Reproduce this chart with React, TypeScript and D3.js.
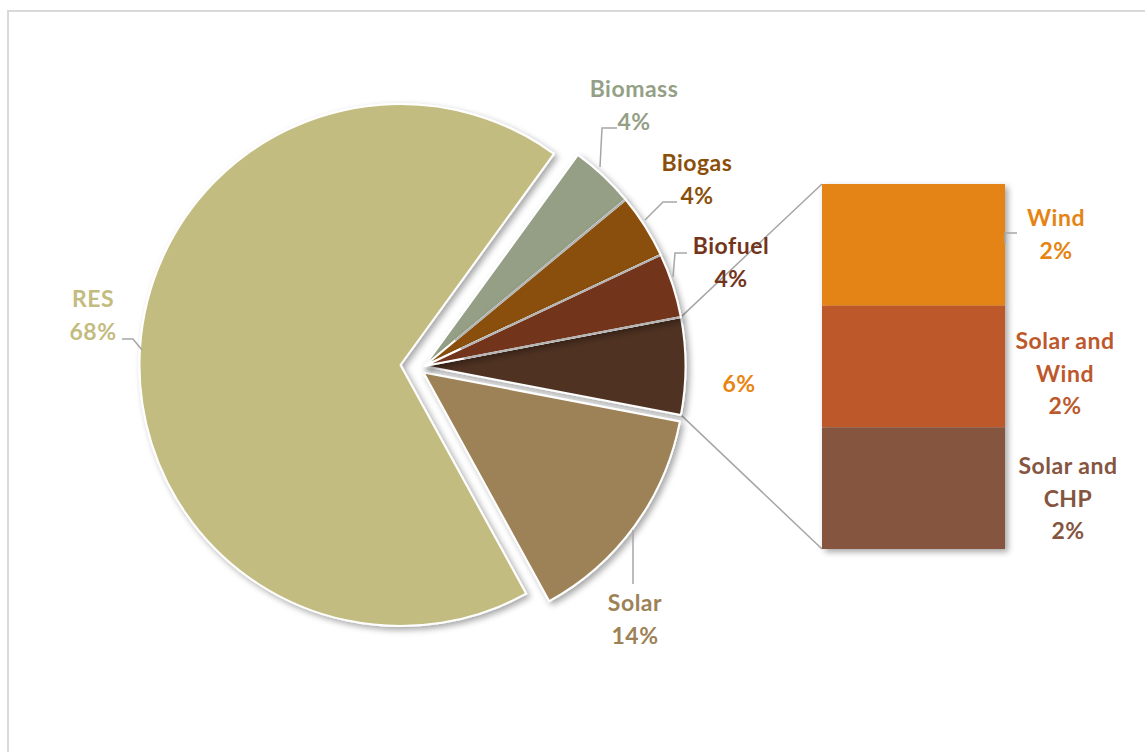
import React from "react";
import * as d3 from "d3";

// ---- data ----
const pieCategories = ["Other", "Solar", "RES", "Biomass", "Biogas", "Biofuel"];
const pieValues = [6, 14, 68, 4, 4, 4];
const pieColors = ["#4F3123", "#9C8256", "#C3BC80", "#949F86", "#8A4F0A", "#72341A"];
const pieLabelColors = ["#E8840F", "#9C8256", "#C3BC80", "#949F86", "#8A4F0A", "#72341A"];

const barCategories = ["Wind", "Solar and Wind", "Solar and CHP"];
const barValues = [2, 2, 2];
const barColors = ["#E58412", "#BD582C", "#855540"];
const barLabelLines = [["Wind"], ["Solar and", "Wind"], ["Solar and", "CHP"]];

// ---- layout ----
const W = 1145;
const H = 752;
const CX = 424.5;
const CY = 366;
const R = 261;
const sliceOffset: Record<string, [number, number]> = {
  RES: [-24, -1],
  Solar: [-1, 6.5],
};
const BAR_X = 822;
const BAR_W = 183;
const BAR_TOP = 184;
const BAR_BOTTOM = 549;
const FONT = "Lato, 'Open Sans', sans-serif";
const FS = 23;
const LS = 0.5;
const LH = 32.5;

// label positions (centre of first line) and leader polylines
const pieLabelPos: Record<string, [number, number]> = {
  Other: [739, 383],
  Solar: [635, 602],
  RES: [93, 298],
  Biomass: [634, 88],
  Biogas: [697, 162],
  Biofuel: [731, 245],
};
const pieLeaders: Record<string, [number, number][]> = {
  RES: [[122, 339], [133, 339], [142, 350]],
  Biomass: [[617, 128], [602, 128], [600, 167]],
  Biogas: [[677, 202], [663, 202], [645, 220]],
  Biofuel: [[687, 253], [675, 253], [673, 277]],
  Solar: [[633, 530], [633, 584]],
};
const barLabelPos: [number, number][] = [
  [1056, 217],
  [1065, 340],
  [1068, 465],
];

export default function App() {
  const total = d3.sum(pieValues);
  const otherFrac = pieValues[0] / total;
  const start = Math.PI / 2 - otherFrac * Math.PI;
  const pie = d3
    .pie<number>()
    .sort(null)
    .value((d) => d)
    .startAngle(start)
    .endAngle(start + 2 * Math.PI);
  const arcs = pie(pieValues);
  const arcGen = d3.arc<d3.PieArcDatum<number>>().innerRadius(0).outerRadius(R);

  const barTotal = d3.sum(barValues);
  const y = d3.scaleLinear().domain([0, barTotal]).range([BAR_BOTTOM, BAR_TOP]);
  const cum: [number, number][] = [];
  let acc = barTotal;
  barValues.forEach((v) => {
    cum.push([acc - v, acc]);
    acc -= v;
  });

  const pt = (a: number, r: number): [number, number] => [CX + r * Math.sin(a), CY - r * Math.cos(a)];
  const oa = arcs[0];
  const p1 = pt(oa.startAngle, R);
  const p2 = pt(oa.endAngle, R);

  // separators between adjacent non-exploded slices
  const sepAngles: number[] = [];
  arcs.forEach((a, i) => {
    const next = arcs[(i + 1) % arcs.length];
    const n1 = pieCategories[i];
    const n2 = pieCategories[(i + 1) % arcs.length];
    if (!sliceOffset[n1] && !sliceOffset[n2]) sepAngles.push(a.endAngle);
    void next;
  });

  const line = d3.line();

  return (
    <svg
      width={W}
      height={H}
      style={{ position: "absolute", left: 0, top: 0, background: "#fff" }}
      fontFamily={FONT}
      fontWeight={700}
    >
      <defs>
        <filter id="sh" x="-20%" y="-20%" width="140%" height="140%">
          <feDropShadow dx="3" dy="3" stdDeviation="3" floodColor="#000" floodOpacity="0.35" />
        </filter>
      </defs>
      <rect x={8} y={11} width={1200} height={800} fill="#fff" stroke="#D9D9D9" strokeWidth={2} />

      {/* connectors */}
      <path d={line([p1, [BAR_X, BAR_TOP]]) || ""} stroke="#A6A6A6" strokeWidth={1.5} fill="none" />
      <path d={line([p2, [BAR_X, BAR_BOTTOM]]) || ""} stroke="#A6A6A6" strokeWidth={1.5} fill="none" />

      {/* pie slices */}
      {arcs.map((a, i) => {
        const name = pieCategories[i];
        const off = sliceOffset[name] || [0, 0];
        return (
          <path
            key={name}
            d={arcGen(a) || ""}
            transform={`translate(${CX + off[0]},${CY + off[1]})`}
            fill={pieColors[i]}
            stroke="#FFFFFF"
            strokeWidth={2}
            strokeLinejoin="round"
            filter="url(#sh)"
          />
        );
      })}
      {sepAngles.map((a, i) => (
        <path
          key={i}
          d={line([pt(a, 40), pt(a, R - 1)]) || ""}
          stroke="#B3B3B3"
          strokeWidth={2}
          fill="none"
        />
      ))}

      {/* bar */}
      <g filter="url(#sh)">
        {barValues.map((v, i) => (
          <rect
            key={barCategories[i]}
            x={BAR_X}
            width={BAR_W}
            y={y(cum[i][1])}
            height={y(cum[i][0]) - y(cum[i][1])}
            fill={barColors[i]}
          />
        ))}
      </g>

      {/* leaders */}
      {Object.entries(pieLeaders).map(([k, pts]) => (
        <path key={k} d={line(pts) || ""} stroke="#A6A6A6" strokeWidth={1.5} fill="none" />
      ))}
      <path d={line([[1017, 233], [1005, 233], [1005, 243]]) || ""} stroke="#A6A6A6" strokeWidth={1.5} fill="none" />

      {/* pie labels */}
      {pieCategories.map((name, i) => {
        const [lx, ly] = pieLabelPos[name];
        const pct = `${Math.round((pieValues[i] / total) * 100)}%`;
        const lines = name === "Other" ? [pct] : [name, pct];
        return (
          <text key={name} textAnchor="middle" fill={pieLabelColors[i]} fontSize={FS} letterSpacing={LS}>
            {lines.map((t, j) => (
              <tspan key={j} x={lx} y={ly + j * LH} dominantBaseline="central">
                {t}
              </tspan>
            ))}
          </text>
        );
      })}

      {/* bar labels */}
      {barCategories.map((name, i) => {
        const [lx, ly] = barLabelPos[i];
        const pct = `${Math.round((barValues[i] / total) * 100)}%`;
        const lines = [...barLabelLines[i], pct];
        return (
          <text key={name} textAnchor="middle" fill={barColors[i]} fontSize={FS} letterSpacing={LS}>
            {lines.map((t, j) => (
              <tspan key={j} x={lx} y={ly + j * LH} dominantBaseline="central">
                {t}
              </tspan>
            ))}
          </text>
        );
      })}
    </svg>
  );
}
